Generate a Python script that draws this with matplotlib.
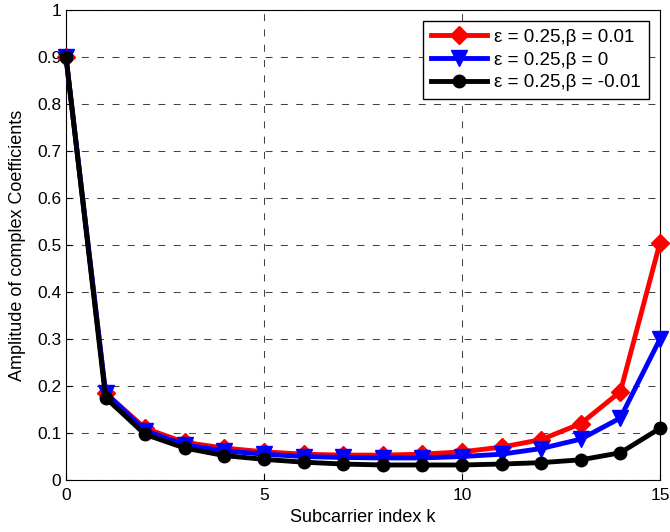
import matplotlib
matplotlib.use("Agg")
import matplotlib.pyplot as plt

k = list(range(16))
beta_pos = [0.90, 0.185, 0.110, 0.080, 0.068, 0.060, 0.055, 0.053, 0.053,
            0.055, 0.060, 0.070, 0.086, 0.120, 0.188, 0.505]
beta_zero = [0.90, 0.185, 0.105, 0.075, 0.062, 0.055, 0.050, 0.048, 0.047,
             0.047, 0.050, 0.055, 0.067, 0.087, 0.132, 0.300]
beta_neg = [0.90, 0.175, 0.097, 0.068, 0.052, 0.044, 0.038, 0.034, 0.032,
            0.032, 0.032, 0.034, 0.037, 0.043, 0.058, 0.110]
labels = ["ε = 0.25,β = 0.01", "ε = 0.25,β = 0", "ε = 0.25,β = -0.01"]

plt.rcParams['font.family'] = ['Liberation Sans', 'DejaVu Sans']

fig = plt.figure(figsize=(6.7, 5.32), dpi=100)
ax = fig.add_axes([0.0985, 0.0977, 0.8865, 0.8833])

ax.plot(k, beta_pos, '-D', color='red', lw=3.5, ms=9, label=labels[0],
        clip_on=False, zorder=3)
ax.plot(k, beta_zero, '-v', color='blue', lw=3.5, ms=11, label=labels[1],
        clip_on=False, zorder=4)
ax.plot(k, beta_neg, '-o', color='black', lw=3.5, ms=9, label=labels[2],
        clip_on=False, zorder=5)

ax.set_xlim(0, 15)
ax.set_ylim(0, 1)
ax.set_xticks([0, 5, 10, 15])
ax.set_yticks([i / 10 for i in range(11)])
ax.set_yticklabels(['0', '0.1', '0.2', '0.3', '0.4', '0.5', '0.6', '0.7',
                    '0.8', '0.9', '1'])
ax.grid(True, color='#444444', linestyle=(0, (6.7, 8)), linewidth=0.75)
ax.tick_params(direction='in', labelsize=12.5, length=4)
ax.tick_params(axis='x', pad=6)
ax.set_xlabel('Subcarrier index k', fontsize=13, labelpad=4)
ax.set_ylabel('Amplitude of complex Coefficients', fontsize=13, labelpad=8)

leg = ax.legend(loc='upper right', fontsize=13.5, fancybox=False,
                framealpha=1, edgecolor='black', handlelength=3,
                borderaxespad=0.6, labelspacing=0.3, handletextpad=0.4,
                borderpad=0.4)
leg.get_frame().set_linewidth(1.0)

fig.savefig('out.png', dpi=100)
